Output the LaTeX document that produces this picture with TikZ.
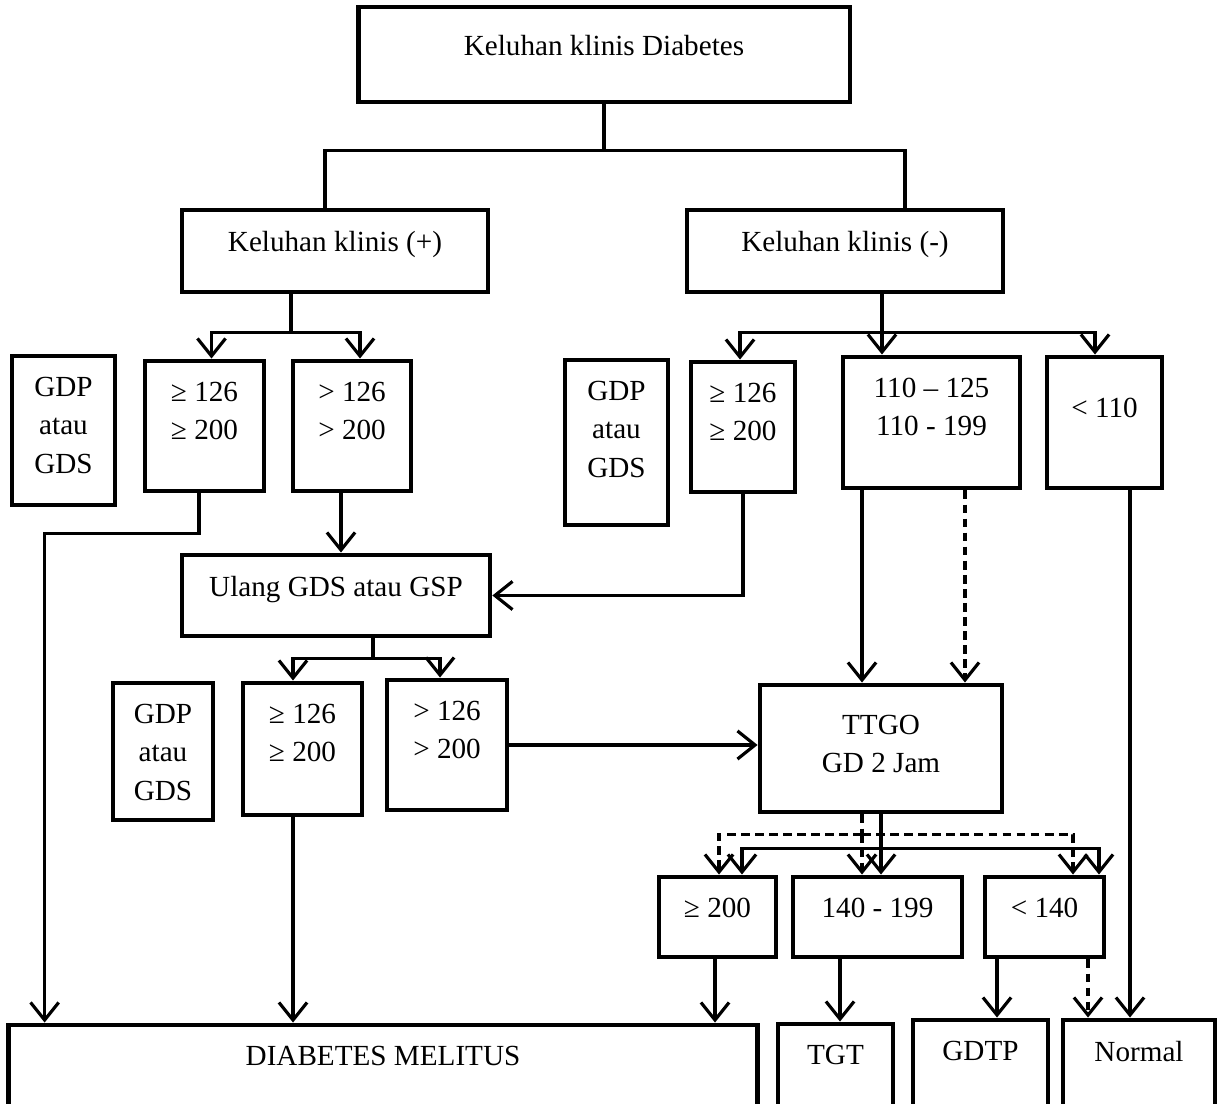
\documentclass[tikz,border=0pt]{standalone}
\usepackage{fontspec}
\setmainfont{Liberation Serif}
\usetikzlibrary{arrows.meta}

\tikzset{
  box/.style={draw, line width=2.8pt, inner sep=0pt, align=center},
  txt/.style={anchor=north, inner sep=0pt, yshift=-0.46cm, align=center},
  conn/.style={line width=1.8pt},
  arr/.style={-{Straight Barb[length=10pt,width=16pt]}},
  dashline/.style={dash pattern=on 5pt off 3pt}
}

\begin{document}
\begin{tikzpicture}[x=0.02cm, y=-0.02cm, font=\fontsize{16.6}{22}\selectfont]
\path[use as bounding box, clip] (0,0) rectangle (1227,1104);

% boxes
\node[box, minimum width=9.84cm, minimum height=1.9cm, label={[txt, yshift=-0.14cm]north:Keluhan klinis Diabetes}] (top) at (604,54.5) {};
\node[box, minimum width=6.12cm, minimum height=1.64cm, label={[txt]north:Keluhan klinis (+)}] (plus) at (335,251) {};
\node[box, minimum width=6.32cm, minimum height=1.64cm, label={[txt]north:Keluhan klinis (-)}] (minus) at (845,251) {};

\node[box, minimum width=2.06cm, minimum height=2.98cm, label={[txt]north:{GDP\\atau\\GDS}}] (gdp1) at (63.5,430.5) {};
\node[box, minimum width=2.38cm, minimum height=2.6cm, label={[txt]north:{≥ 126\\≥ 200}}] (ge1) at (204.5,426) {};
\node[box, minimum width=2.36cm, minimum height=2.6cm, label={[txt]north:{> 126\\> 200}}] (gt1) at (352,426) {};

\node[box, minimum width=2.06cm, minimum height=3.3cm, label={[txt]north:{GDP\\atau\\GDS}}] (gdp2) at (616.5,442.5) {};
\node[box, minimum width=2.08cm, minimum height=2.6cm, label={[txt]north:{≥ 126\\≥ 200}}] (ge2) at (743,427) {};
\node[box, minimum width=3.54cm, minimum height=2.62cm, label={[txt]north:{110 – 125\\110 - 199}}] (mid) at (931.5,422.5) {};
\node[box, minimum width=2.3cm, minimum height=2.62cm, label={[txt, yshift=-0.4cm]north:{< 110}}] (lt) at (1104.5,422.5) {};

\node[box, minimum width=6.16cm, minimum height=1.62cm, label={[txt]north:Ulang GDS atau GSP}] (ulang) at (336,595.5) {};

\node[box, minimum width=2.0cm, minimum height=2.74cm, label={[txt]north:{GDP\\atau\\GDS}}] (gdp3) at (163,751.5) {};
\node[box, minimum width=2.38cm, minimum height=2.64cm, label={[txt]north:{≥ 126\\≥ 200}}] (ge3) at (302.5,749) {};
\node[box, minimum width=2.4cm, minimum height=2.6cm, label={[txt]north:{> 126\\> 200}}] (gt3) at (447,745) {};
\node[box, minimum width=4.84cm, minimum height=2.54cm, label={[txt, yshift=-0.18cm]north:{TTGO\\GD 2 Jam}}] (ttgo) at (881,748.5) {};

\node[box, minimum width=2.34cm, minimum height=1.6cm, label={[txt]north:≥ 200}] (r200) at (717.5,917) {};
\node[box, minimum width=3.38cm, minimum height=1.6cm, label={[txt]north:140 - 199}] (r140) at (877.5,917) {};
\node[box, minimum width=2.38cm, minimum height=1.6cm, label={[txt]north:{< 140}}] (rlt) at (1044.5,917) {};

\node[box, minimum width=15cm, minimum height=2.1cm, label={[txt]north:DIABETES MELITUS}] (dm) at (383,1077.5) {};
\node[box, minimum width=2.3cm, minimum height=2.16cm, label={[txt]north:TGT}] (tgt) at (835.5,1078) {};
\node[box, minimum width=2.7cm, minimum height=2.2cm, label={[txt]north:GDTP}] (gdtp) at (980.5,1075) {};
\node[box, minimum width=3.04cm, minimum height=2.2cm, label={[txt]north:Normal}] (normal) at (1139,1075) {};

% top split
\draw[conn] (top.south) -- ++(0,46) coordinate (j0);
\draw[conn] ([xshift=-0.2cm]plus.north) |- (j0) -| ([xshift=1.2cm]minus.north);

% keluhan (+)
\draw[conn] ([xshift=-0.88cm]plus.south) -- ++(0,38) coordinate (j1);
\draw[conn, arr] (j1) -| ([xshift=0.14cm]ge1.north);
\draw[conn, arr] (j1) -| ([xshift=0.16cm]gt1.north);
\draw[conn, arr] ([xshift=-0.11cm]ge1.south) -- ++(0,40) -| ([xshift=0.78cm]dm.north west);
\draw[conn, arr] ([xshift=-0.22cm]gt1.south) -- ([xshift=-0.22cm]gt1.south |- ulang.north);

% keluhan (-)
\draw[conn] ([xshift=0.74cm]minus.south) -- ++(0,38) coordinate (j2);
\draw[conn, arr] (j2) -| ([xshift=-0.06cm]ge2.north);
\draw[conn, arr] (j2) -- (j2 |- mid.north);
\draw[conn, arr] (j2) -| ([xshift=-0.19cm]lt.north);
\draw[conn, arr] (ge2.south) |- (ulang.east);
\draw[conn, arr] ([xshift=-1.39cm]mid.south) -- ([xshift=-1.39cm]mid.south |- ttgo.north);
\draw[conn, arr, dashline] ([xshift=0.67cm]mid.south) -- ([xshift=0.67cm]mid.south |- ttgo.north);
\draw[conn, arr] ([xshift=0.51cm]lt.south) -- ([xshift=0.51cm]lt.south |- normal.north);

% ulang
\draw[conn] ([xshift=0.74cm]ulang.south) -- ++(0,20) coordinate (j3);
\draw[conn, arr] (j3) -| ([xshift=-0.19cm]ge3.north);
\draw[conn, arr] (j3) -| ([xshift=-0.14cm]gt3.north);
\draw[conn, arr] (gt3.east) -- (gt3.east -| ttgo.west);
\draw[conn, arr] ([xshift=-0.19cm]ge3.south) -- ([xshift=-0.19cm]ge3.south |- dm.north);

% ttgo
\draw[conn] (ttgo.south) -- ++(0,34) coordinate (j4);
\draw[conn, arr] (j4) -| ([xshift=0.49cm]r200.north);
\draw[conn, arr] (j4) -- (j4 |- r140.north);
\draw[conn, arr] (j4) -| ([xshift=1.09cm]rlt.north);
\draw[conn, dashline] ([xshift=-0.38cm]ttgo.south) -- ++(0,20) coordinate (j5);
\draw[conn, arr, dashline] (j5) -| ([xshift=0.03cm]r200.north);
\draw[conn, arr, dashline] (j5) -- (j5 |- r140.north);
\draw[conn, arr, dashline] (j5) -| ([xshift=0.57cm]rlt.north);

% results
\draw[conn, arr] ([xshift=-0.05cm]r200.south) -- ([xshift=-0.05cm]r200.south |- dm.north);
\draw[conn, arr] ([xshift=-0.75cm]r140.south) -- ([xshift=-0.75cm]r140.south |- tgt.north);
\draw[conn, arr] ([xshift=-0.95cm]rlt.south) -- ([xshift=-0.95cm]rlt.south |- gdtp.north);
\draw[conn, arr, dashline] ([xshift=0.87cm]rlt.south) -- ([xshift=0.87cm]rlt.south |- normal.north);
\end{tikzpicture}
\end{document}
